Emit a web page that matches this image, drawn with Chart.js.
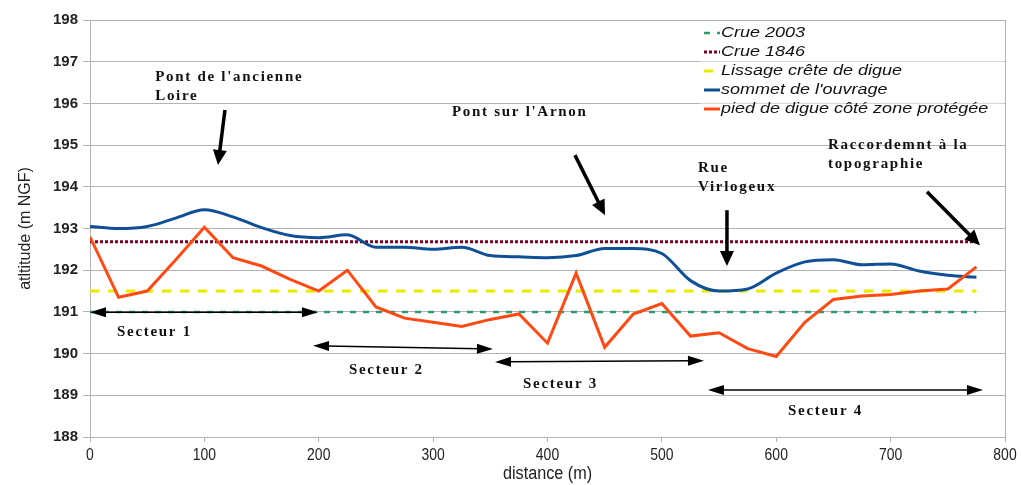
<!DOCTYPE html>
<html lang="fr">
<head>
<meta charset="utf-8">
<title>Profil en long de la digue</title>
<script src="https://cdn.jsdelivr.net/npm/chart.js@4/dist/chart.umd.min.js"></script>
<style>
  html, body { margin: 0; padding: 0; background: #fff; }
  #wrap { position: relative; width: 1021px; height: 485px; }
</style>
</head>
<body>
<div id="wrap"><canvas id="profil"></canvas></div>
<script>
'use strict';

// --- données ---
var distance = [0, 25, 50, 75, 100, 125, 150, 175, 200, 225, 250, 275, 300, 325, 350, 375,
  400, 425, 450, 475, 500, 525, 550, 575, 600, 625, 650, 675, 700, 725, 750, 775];
var sommet = [193.05, 193.0, 193.05, 193.25, 193.45, 193.28, 193.02, 192.83, 192.78, 192.85, 192.55, 192.55,
  192.5, 192.55, 192.35, 192.32, 192.3, 192.35, 192.52, 192.52, 192.4, 191.75, 191.5, 191.55,
  191.93, 192.2, 192.25, 192.13, 192.15, 191.98, 191.88, 191.83];
var pied = [192.8, 191.35, 191.5, 192.25, 193.03, 192.3, 192.1, 191.78, 191.5, 192.0, 191.12, 190.85,
  190.75, 190.65, 190.82, 190.95, 190.25, 191.93, 190.15, 190.95, 191.2, 190.42, 190.5, 190.12,
  189.93, 190.75, 191.3, 191.38, 191.42, 191.5, 191.55, 192.08];
var niveauxX = [0, 775];
var crue2003 = [191.0, 191.0];
var crue1846 = [192.68, 192.68];
var lissage = [191.5, 191.5];
var yTicks = [188, 189, 190, 191, 192, 193, 194, 195, 196, 197, 198];
var xTicks = [0, 100, 200, 300, 400, 500, 600, 700, 800];

// annotations (coordonnées en distance / altitude)
var notes = [
  { lignes: ["Pont de l'ancienne", 'Loire'], d: 57, alt: 196.63 },
  { lignes: ["Pont sur l'Arnon"], d: 316.5, alt: 195.79 },
  { lignes: ['Rue', 'Virlogeux'], d: 531.6, alt: 194.45 },
  { lignes: ['Raccordemnt à la', 'topographie'], d: 645.2, alt: 195.0 },
  { lignes: ['Secteur 1'], d: 23.6, alt: 190.52 },
  { lignes: ['Secteur 2'], d: 226.4, alt: 189.61 },
  { lignes: ['Secteur 3'], d: 378.6, alt: 189.27 },
  { lignes: ['Secteur 4'], d: 610.3, alt: 188.62 }
];
var fleches = [
  { de: [118, 195.84], a: [111.9, 194.52], double: false },
  { de: [424, 194.76], a: [450.3, 193.32], double: false },
  { de: [556.9, 193.44], a: [556.9, 192.1], double: false },
  { de: [731.8, 193.88], a: [778.1, 192.6], double: false },
  { de: [0, 190.99], a: [199.3, 190.99], double: true },
  { de: [195, 190.19], a: [352.3, 190.11], double: true },
  { de: [354.1, 189.8], a: [536.8, 189.83], double: true },
  { de: [540.3, 189.13], a: [780.7, 189.13], double: true }
];

function pts(xs, ys) { return xs.map(function (x, i) { return { x: x, y: ys[i] }; }); }

var GRID = '#b3b3b3';
var SANS = '"Liberation Sans", Arial, sans-serif';
var SERIF = '"Liberation Serif", "Times New Roman", serif';

function tete(ctx, x0, y0, x1, y1, long, demi) {
  var ang = Math.atan2(y1 - y0, x1 - x0);
  ctx.beginPath();
  ctx.moveTo(x1, y1);
  ctx.lineTo(x1 - long * Math.cos(ang) + demi * Math.sin(ang), y1 - long * Math.sin(ang) - demi * Math.cos(ang));
  ctx.lineTo(x1 - long * Math.cos(ang) - demi * Math.sin(ang), y1 - long * Math.sin(ang) + demi * Math.cos(ang));
  ctx.closePath();
  ctx.fill();
}

// texte étiré / resserré horizontalement
function texte(ctx, t, x, y, echelle, align) {
  ctx.save();
  ctx.translate(x, y);
  ctx.scale(echelle, 1);
  ctx.textAlign = align || 'left';
  ctx.fillText(t, 0, 0);
  ctx.restore();
}

// cadre droit, axe x, légende interne, textes et flèches
var decor = {
  id: 'decor',
  afterDatasetsDraw: function (chart) {
    var ctx = chart.ctx, a = chart.chartArea, sx = chart.scales.x, sy = chart.scales.y;
    ctx.save();
    ctx.strokeStyle = GRID; ctx.lineWidth = 1;
    ctx.beginPath(); ctx.moveTo(a.right + 0.5, a.top); ctx.lineTo(a.right + 0.5, a.bottom); ctx.stroke();

    // graduations x (police étroite)
    ctx.fillStyle = '#222'; ctx.textBaseline = 'middle';
    ctx.font = '17px ' + SANS;
    xTicks.forEach(function (v) { texte(ctx, String(v), sx.getPixelForValue(v), a.bottom + 18, 0.82, 'center'); });
    ctx.font = '18px ' + SANS;
    texte(ctx, 'distance (m)', (a.left + a.right) / 2, a.bottom + 37, 0.9, 'center');

    // flèches
    ctx.fillStyle = '#000'; ctx.strokeStyle = '#000';
    fleches.forEach(function (f) {
      var x0 = sx.getPixelForValue(f.de[0]), y0 = sy.getPixelForValue(f.de[1]);
      var x1 = sx.getPixelForValue(f.a[0]), y1 = sy.getPixelForValue(f.a[1]);
      var long = f.double ? 16 : 15, demi = f.double ? 5 : 7;
      var ang = Math.atan2(y1 - y0, x1 - x0);
      ctx.lineWidth = f.double ? 1.5 : 3.5;
      ctx.beginPath();
      var bx0 = f.double ? x0 + long * 0.8 * Math.cos(ang) : x0, by0 = f.double ? y0 + long * 0.8 * Math.sin(ang) : y0;
      ctx.moveTo(bx0, by0);
      ctx.lineTo(x1 - long * 0.8 * Math.cos(ang), y1 - long * 0.8 * Math.sin(ang));
      ctx.stroke();
      tete(ctx, x0, y0, x1, y1, long, demi);
      if (f.double) tete(ctx, x1, y1, x0, y0, long, demi);
    });

    // textes
    ctx.font = 'bold 15px ' + SERIF;
    ctx.textBaseline = 'middle'; ctx.textAlign = 'left';
    ctx.fillStyle = '#111';
    if (ctx.letterSpacing !== undefined) ctx.letterSpacing = '1.7px';
    notes.forEach(function (n) {
      var x = sx.getPixelForValue(n.d), y = sy.getPixelForValue(n.alt);
      n.lignes.forEach(function (t, i) { ctx.fillText(t, x, y + i * 19); });
    });
    if (ctx.letterSpacing !== undefined) ctx.letterSpacing = '0px';

    // légende
    var lx = 704, ly = 33, pas = 19;
    ctx.fillStyle = 'rgba(255,255,255,0.45)';
    ctx.fillRect(lx - 4, a.top + 1, a.right - lx + 3, 97);
    ctx.font = 'italic 15px ' + SANS;
    chart.data.datasets.forEach(function (ds, i) {
      var y = ly + i * pas;
      ctx.strokeStyle = ds.borderColor; ctx.lineWidth = ds.borderWidth;
      ctx.setLineDash(ds.borderDash || []);
      ctx.beginPath(); ctx.moveTo(lx, y); ctx.lineTo(lx + 16, y); ctx.stroke();
      ctx.setLineDash([]);
      ctx.fillStyle = '#111';
      texte(ctx, ds.label, lx + 17, y, 1.2, 'left');
    });
    ctx.restore();
  }
};

var ctx = document.getElementById('profil').getContext('2d');
new Chart(ctx, {
  type: 'line',
  data: {
    datasets: [
      { label: 'Crue 2003', data: pts(niveauxX, crue2003), borderColor: '#2f9a6c', borderWidth: 2.5, borderDash: [6, 7], order: 4 },
      { label: 'Crue 1846', data: pts(niveauxX, crue1846), borderColor: '#7e0021', borderWidth: 3, borderDash: [3, 2], order: 3 },
      { label: 'Lissage crête de digue', data: pts(niveauxX, lissage), borderColor: '#eaea00', borderWidth: 3, borderDash: [9, 9], order: 2 },
      { label: "sommet de l'ouvrage", data: pts(distance, sommet), borderColor: '#0f4f95', borderWidth: 3, cubicInterpolationMode: 'monotone', order: 1 },
      { label: 'pied de digue côté zone protégée', data: pts(distance, pied), borderColor: '#ff4a14', borderWidth: 3, tension: 0, order: 0 }
    ]
  },
  options: {
    responsive: true, maintainAspectRatio: false, animation: false,
    elements: { point: { radius: 0 }, line: { fill: false, borderCapStyle: 'butt' } },
    layout: { padding: { top: 20, right: 16, left: 0, bottom: 0 } },
    plugins: { legend: { display: false }, tooltip: { enabled: false } },
    scales: {
      x: {
        type: 'linear', min: 0, max: 800,
        afterBuildTicks: function (ax) { ax.ticks = xTicks.map(function (v) { return { value: v }; }); },
        afterFit: function (ax) { ax.height = 48; },
        grid: { drawOnChartArea: false, drawTicks: true, tickLength: 5, color: GRID },
        border: { color: GRID },
        ticks: { display: false }
      },
      y: {
        min: 188, max: 198,
        afterBuildTicks: function (ax) { ax.ticks = yTicks.map(function (v) { return { value: v }; }); },
        afterFit: function (ax) { ax.width = 90; },
        grid: { color: GRID, tickLength: 7 },
        border: { color: GRID },
        ticks: { color: '#222', font: { family: SANS, size: 15, weight: 'bold' }, padding: 5 },
        title: { display: true, text: 'atltitude (m NGF)', color: '#222', font: { family: SANS, size: 16 }, padding: { top: 16, bottom: 0 } }
      }
    }
  },
  plugins: [decor]
});
</script>
</body>
</html>
